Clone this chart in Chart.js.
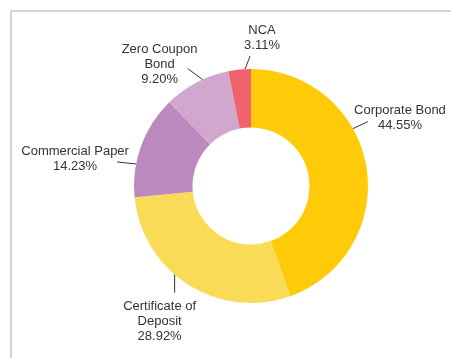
<!DOCTYPE html>
<html lang="en">
<head>
    <meta charset="UTF-8">
    <script src="https://cdn.jsdelivr.net/npm/chart.js"></script>
    <title>Portfolio breakdown</title>
    <style>
        html, body {
            margin: 0;
            padding: 0;
            background: #ffffff;
            overflow: hidden;
        }

        #frame {
            position: absolute;
            left: 10px;
            top: 10px;
            width: 460px;
            height: 360px;
            border-left: 2px solid #d4d4d4;
            border-top: 2px solid #d4d4d4;
        }

        #chart_container {
            position: absolute;
            left: 0;
            top: 0;
            width: 451px;
            height: 358px;
        }
    </style>
</head>
<body>
    <div id="frame"></div>
    <div id="chart_container">
        <canvas id="donut_canvas" width="451" height="358"></canvas>
    </div>

    <script>
        // Slices, clockwise from 12 o'clock
        const categories = ['Corporate Bond', 'Certificate of Deposit', 'Commercial Paper', 'Zero Coupon Bond', 'NCA'];
        const shares = [44.55, 28.92, 14.23, 9.20, 3.11];

        // How each label is broken into lines on the picture
        const labelLines = [
            ['Corporate Bond'],
            ['Certificate of', 'Deposit'],
            ['Commercial Paper'],
            ['Zero Coupon', 'Bond'],
            ['NCA']
        ];

        const sliceColors = ['#FFCA08', '#FADB58', '#BB89BE', '#D1A7CE', '#F0636D'];

        // Label placement: where the leader touches the slice (fraction of its angle),
        // the leader vector, and the text block offset from the leader end
        const anchorFraction = [0.378, 0.58, 0.32, 0.6, 0.74];
        const leaderVector = [[15, -7], [0, 18], [-19, -2], [-15, -11], [5, -13]];
        const textOffset = [[32, -3.5], [-15, 29], [-42, -3.5], [-28, -4.5], [12, -18.5]];

        const outsideLabels = {
            id: 'outsideLabels',
            afterDatasetsDraw(chart) {
                const ctx = chart.ctx;
                const meta = chart.getDatasetMeta(0);
                ctx.save();
                ctx.font = '13px "Liberation Sans", Arial, sans-serif';
                ctx.fillStyle = '#333333';
                ctx.strokeStyle = '#333333';
                ctx.lineWidth = 1;
                ctx.textAlign = 'center';
                ctx.textBaseline = 'middle';

                meta.data.forEach(function (arc, i) {
                    const p = arc.getProps(['x', 'y', 'startAngle', 'endAngle', 'outerRadius'], true);
                    const a = p.startAngle + anchorFraction[i] * (p.endAngle - p.startAngle);
                    const ax = p.x + p.outerRadius * Math.cos(a);
                    const ay = p.y + p.outerRadius * Math.sin(a);
                    const ex = ax + leaderVector[i][0];
                    const ey = ay + leaderVector[i][1];

                    ctx.beginPath();
                    ctx.moveTo(ax, ay);
                    ctx.lineTo(ex, ey);
                    ctx.stroke();

                    const lines = labelLines[i].concat([shares[i].toFixed(2) + '%']);
                    const cx = ex + textOffset[i][0];
                    const cy = ey + textOffset[i][1];
                    const lineHeight = 15;
                    lines.forEach(function (txt, k) {
                        ctx.fillText(txt, cx, cy + (k - (lines.length - 1) / 2) * lineHeight);
                    });
                });
                ctx.restore();
            }
        };

        const ctx = document.getElementById('donut_canvas').getContext('2d');
        const donutChart = new Chart(ctx, {
            type: 'doughnut',
            data: {
                labels: categories,
                datasets: [{
                    data: shares,
                    backgroundColor: sliceColors,
                    borderWidth: 0
                }]
            },
            options: {
                responsive: false,
                animation: false,
                events: [],
                cutout: '50%',
                layout: {
                    padding: { top: 69, bottom: 55, left: 134, right: 83 }
                },
                plugins: {
                    legend: { display: false },
                    tooltip: { enabled: false }
                }
            },
            plugins: [outsideLabels]
        });
    </script>
</body>
</html>
